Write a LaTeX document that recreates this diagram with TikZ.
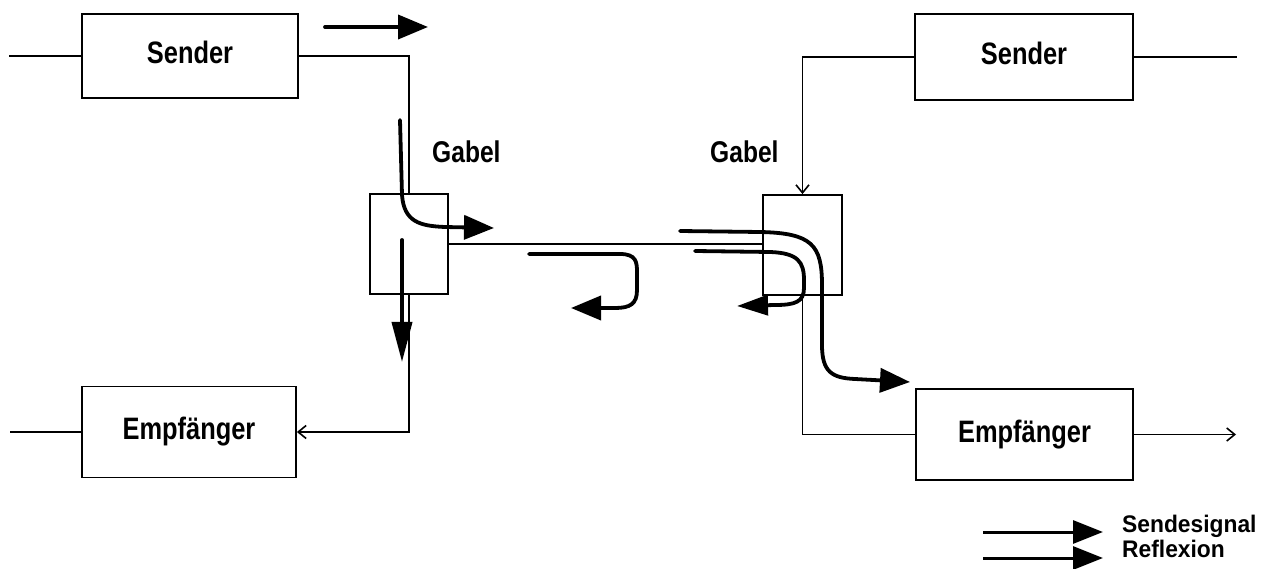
\documentclass[tikz,border=0pt]{standalone}
\usepackage{fontspec}
\newfontfamily\boxfont{Liberation Sans}[FakeStretch=0.82]
\newfontfamily\legfont{Liberation Sans}[FakeStretch=0.95]
\usetikzlibrary{arrows.meta}
\begin{document}
\begin{tikzpicture}[x=1pt,y=-1pt,
  box/.style={draw, line width=1.8pt, inner sep=0pt,
    font=\boxfont\bfseries\fontsize{31}{31}\selectfont},
  fork/.style={draw, line width=1.8pt, inner sep=0pt,
    minimum width=78pt, minimum height=100pt},
  lbl/.style={anchor=base west, inner sep=0pt,
    font=\boxfont\bfseries\fontsize{30}{30}\selectfont},
  leglbl/.style={anchor=base west, inner sep=0pt,
    font=\legfont\bfseries\fontsize{24}{24}\selectfont},
  wire/.style={line width=1.7pt},
  barb/.style={-{Straight Barb[length=8pt,width=13pt,line width=1.6pt]}},
  sig/.style={line width=3.8pt, line cap=round, -{Triangle[length=30pt,width=24pt]}},
  sigb/.style={line width=3.8pt, line cap=round, -{Triangle[length=40pt,width=20pt]}},
  legarrow/.style={line width=3pt, -{Triangle[length=30pt,width=23pt]}}
]
\useasboundingbox (0,0) rectangle (1270,569);

% blocks
\node[box, minimum width=216pt, minimum height=84pt, text depth=8pt] (sendL) at (190,56) {Sender};
\node[box, minimum width=218pt, minimum height=86pt, text depth=8pt] (sendR) at (1024,57) {Sender};
\node[box, minimum width=214pt, minimum height=91pt] (empL) at (189,432) {Empfänger};
\node[box, minimum width=217pt, minimum height=91pt] (empR) at (1024.5,434.5) {Empfänger};
\node[fork] (gabL) at (409,244) {};
\node[fork, minimum width=79pt] (gabR) at (802.5,245) {};

\node[lbl] (gabLtxt) at (432,163) {Gabel};
\node[lbl] (gabRtxt) at (710,163) {Gabel};

% free wire ends
\coordinate (inS) at (9,56);
\coordinate (outS) at (1237,57);
\coordinate (inE) at (10,432);
\coordinate (outE) at (1236,434.5);

% wiring
\draw[wire] (inS) -- (sendL.west);
\draw[wire] (sendL.east) -| (gabL.north);
\draw[wire, barb] (gabL.south) |- (empL.east);
\draw[wire] (gabL.east) -- (gabL.east -| gabR.west);
\draw[wire, barb] (sendR.west) -| (gabR.north);
\draw[wire] (sendR.east) -- (outS);
\draw[wire] (gabR.south) |- (empR.west);
\draw[wire] (inE) -- (empL.west);
\draw[wire, barb] (empR.east) -- (outE);

% signal paths
\draw[sig] (325,27) -- (428,27);
\draw[sig] (400,120) -- (402,195) .. controls (404,222) and (420,226) .. (445,227) -- (494,228);
\draw[sigb] (402,240) -- (402,362);
\draw[sig] (529,254) -- (620,254) .. controls (636,254) and (637,262) .. (637,272)
  -- (637,290) .. controls (637,304) and (630,308) .. (615,308) -- (571,308);
\draw[sig] (680,231) -- (760,232) .. controls (812,233) and (822,245) .. (822,285)
  -- (822,345) .. controls (822,372) and (832,378) .. (855,379) -- (910,382);
\draw[sig, -{Triangle[length=31pt,width=20pt]}] (695,251) -- (770,252)
  .. controls (798,253) and (804,262) .. (804,280) -- (804,288)
  .. controls (804,302) and (795,305) .. (775,305) -- (737,306);

% legend
\node[leglbl] (legS) at (1122,532) {Sendesignal};
\node[leglbl] (legR) at (1122,557) {Reflexion};
\draw[legarrow] (983,532) -- (1103,532);
\draw[legarrow] (983,558) -- (1103,558);
\end{tikzpicture}
\end{document}
